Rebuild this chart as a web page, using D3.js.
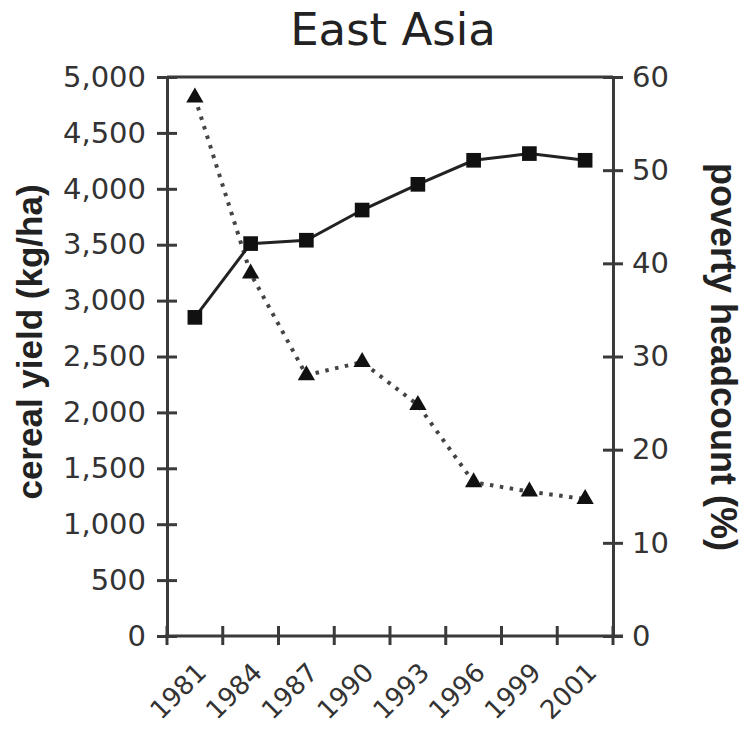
<!DOCTYPE html>
<html><head><meta charset="utf-8">
<script src="https://cdn.jsdelivr.net/npm/d3@7"></script>
<style>body{margin:0;background:#fff}svg{display:block}</style>
</head><body><svg id="c" width="743" height="732"></svg>
<script>
const years = ["1981","1984","1987","1990","1993","1996","1999","2001"];
const cerealYield = [2850, 3510, 3540, 3810, 4040, 4255, 4315, 4255];
const poverty = [57.8, 38.9, 28.0, 29.4, 24.8, 16.5, 15.5, 14.7];
const leftTicks = [0,500,1000,1500,2000,2500,3000,3500,4000,4500,5000];
const rightTicks = [0,10,20,30,40,50,60];

const svg = d3.select("#c");
const L = 167, R = 613, T = 77, B = 636;
const axisCol = "#3a3a3a", textCol = "#333";
const font = "DejaVu Sans, sans-serif";
const labFont = "Liberation Sans, Arial, sans-serif";

const x = d3.scaleBand().domain(years).range([L, R]);
const yL = d3.scaleLinear().domain([0, 5000]).range([B, T]);
const yR = d3.scaleLinear().domain([0, 60]).range([B, T]);

// frame top line
svg.append("line").attr("x1", L).attr("x2", R).attr("y1", T).attr("y2", T)
  .attr("stroke", axisCol).attr("stroke-width", 3);

// left axis
const gL = svg.append("g").attr("transform", `translate(${L},0)`)
  .call(d3.axisLeft(yL).tickValues(leftTicks).tickSize(0).tickPadding(21).tickFormat(d3.format(",")));
gL.select(".domain").attr("stroke", axisCol).attr("stroke-width", 3);
gL.selectAll(".tick text").attr("font-family", font).attr("font-size", 29).attr("fill", textCol);
gL.selectAll(".tick").append("line").attr("x1", -10).attr("x2", 10)
  .attr("stroke", axisCol).attr("stroke-width", 3);

// right axis
const gR = svg.append("g").attr("transform", `translate(${R},0)`)
  .call(d3.axisRight(yR).tickValues(rightTicks).tickSize(0).tickPadding(19));
gR.select(".domain").attr("stroke", axisCol).attr("stroke-width", 3);
gR.selectAll(".tick text").attr("font-family", font).attr("font-size", 29).attr("fill", textCol);
gR.selectAll(".tick").append("line").attr("x1", -10).attr("x2", 10)
  .attr("stroke", axisCol).attr("stroke-width", 3);

// bottom axis: ticks at band boundaries
svg.append("line").attr("x1", L - 2).attr("x2", R + 10).attr("y1", B).attr("y2", B)
  .attr("stroke", axisCol).attr("stroke-width", 3);
const bounds = years.map(d => x(d)).concat([R]);
svg.append("g").selectAll("line").data(bounds).join("line")
  .attr("x1", d => d).attr("x2", d => d).attr("y1", B - 10).attr("y2", B + 9)
  .attr("stroke", axisCol).attr("stroke-width", 3);
svg.append("g").selectAll("text").data(years).join("text")
  .attr("transform", d => `translate(${x(d) + x.bandwidth()/2 + 13},${B + 38}) rotate(-45)`)
  .attr("text-anchor", "end")
  .attr("font-family", font).attr("font-size", 26).attr("fill", textCol)
  .text(d => d);

// poverty dotted line
const cx = d => x(d) + x.bandwidth()/2;
svg.append("path").datum(poverty)
  .attr("d", d3.line().x((d,i) => cx(years[i])).y(d => yR(d)))
  .attr("fill", "none").attr("stroke", "#444").attr("stroke-width", 4)
  .attr("stroke-dasharray", "3.5,6.5");
svg.append("g").selectAll("path").data(poverty).join("path")
  .attr("transform", (d,i) => `translate(${cx(years[i])},${yR(d)})`)
  .attr("d", d3.symbol().type(d3.symbolTriangle).size(130))
  .attr("fill", "#111");

// cereal yield solid line
svg.append("path").datum(cerealYield)
  .attr("d", d3.line().x((d,i) => cx(years[i])).y(d => yL(d)))
  .attr("fill", "none").attr("stroke", "#222").attr("stroke-width", 3);
svg.append("g").selectAll("path").data(cerealYield).join("path")
  .attr("transform", (d,i) => `translate(${cx(years[i])},${yL(d)})`)
  .attr("d", d3.symbol().type(d3.symbolSquare).size(215))
  .attr("fill", "#111");

// title and axis labels
svg.append("text").attr("x", 393).attr("y", 45).attr("text-anchor", "middle")
  .attr("font-family", font).attr("font-size", 45).attr("fill", "#222").text("East Asia");
svg.append("text").attr("transform", `translate(42,342) rotate(-90)`).attr("text-anchor", "middle")
  .attr("font-family", labFont).attr("font-size", 35).attr("font-weight", "bold").attr("fill", "#222")
  .text("cereal yield (kg/ha)");
svg.append("text").attr("transform", `translate(711,357) rotate(90)`).attr("text-anchor", "middle")
  .attr("font-family", labFont).attr("font-size", 36).attr("font-weight", "bold").attr("fill", "#222")
  .text("poverty headcount (%)");
</script></body></html>
